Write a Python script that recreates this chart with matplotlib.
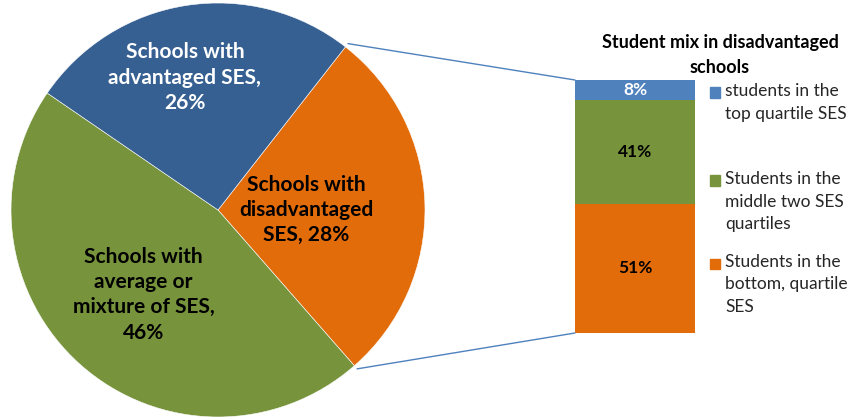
import matplotlib
matplotlib.use("Agg")
import matplotlib.pyplot as plt
from matplotlib.patches import ConnectionPatch, Rectangle
import numpy as np

plt.rcParams['font.family'] = ['Lato', 'DejaVu Sans']

# pie data: school types
pie_labels = ["Schools with\ndisadvantaged\nSES, 28%",
              "Schools with\naverage or\nmixture of SES,\n46%",
              "Schools with\nadvantaged SES,\n26%"]
pie_values = [28, 46, 26]
pie_colors = ["#E36C0A", "#77933C", "#376092"]
pie_text_colors = ["black", "black", "white"]

# bar data: student mix in disadvantaged schools (bottom to top)
bar_labels = ["Students in the\nbottom, quartile\nSES",
              "Students in the\nmiddle two SES\nquartiles",
              "students in the\ntop quartile SES"]
bar_values = [51, 41, 8]
bar_colors = ["#E36C0A", "#77933C", "#4F81BD"]
bar_text_colors = ["black", "black", "white"]

W, H = 853, 418
fig = plt.figure(figsize=(W / 100, H / 100), dpi=100)


def box(x0, y0, x1, y1):
    # pixel box (top-left origin) -> figure fraction rect
    return [x0 / W, 1 - y1 / H, (x1 - x0) / W, (y1 - y0) / H]


# pie
ax_pie = fig.add_axes(box(11, 3, 425, 417))
start = 52
wedges, texts = ax_pie.pie(pie_values, colors=pie_colors, startangle=start,
                           counterclock=False, radius=1,
                           wedgeprops=dict(linewidth=0.4, edgecolor="white"))
ax_pie.set_xlim(-1, 1)
ax_pie.set_ylim(-1, 1)
ax_pie.set_aspect("equal")
ax_pie.axis("off")

label_pos = [(0.425, 0.0), (-0.36, -0.41), (-0.16, 0.64)]
for lab, pos, tc in zip(pie_labels, label_pos, pie_text_colors):
    ax_pie.text(pos[0], pos[1], lab, ha="center", va="center", color=tc,
                fontsize=15, fontweight="bold", linespacing=1.32)

# stacked bar
ax_bar = fig.add_axes(box(575, 80, 695, 333))
bottom = 0
for v, c, tc in zip(bar_values, bar_colors, bar_text_colors):
    ax_bar.bar(0, v, width=1, bottom=bottom, color=c, edgecolor="none")
    ax_bar.text(0, bottom + v / 2, "%d%%" % v, ha="center", va="center",
                color=tc, fontsize=12.5, fontweight="bold")
    bottom += v
ax_bar.set_xlim(-0.5, 0.5)
ax_bar.set_ylim(0, 100)
ax_bar.axis("off")

fig.text(720 / W, 1 - 55 / H, "Student mix in disadvantaged\nschools",
         ha="center", va="center", fontsize=13, fontweight="bold",
         linespacing=1.6)

# connector lines
a0 = np.radians(start)
a1 = np.radians(start - pie_values[0] / 100 * 360)
for ang, yb in [(a0, 100), (a1, 0)]:
    con = ConnectionPatch(xyA=(np.cos(ang) * 1.02, np.sin(ang) * 1.02), coordsA=ax_pie.transData,
                          xyB=(-0.5, yb), coordsB=ax_bar.transData,
                          color="#4F81BD", linewidth=1)
    fig.add_artist(con)

# legend (top to bottom)
leg_y = [84, 172, 255]
for lab, c, y in zip(bar_labels[::-1], bar_colors[::-1], leg_y):
    fig.add_artist(Rectangle((710 / W, 1 - (y + 14) / H), 10.5 / W, 10.5 / H,
                             transform=fig.transFigure, color=c))
    fig.text(725 / W, 1 - (y - 1) / H, lab, ha="left", va="top",
             fontsize=12.5, color="#262626", linespacing=1.5)

fig.savefig("out.png", dpi=100)
